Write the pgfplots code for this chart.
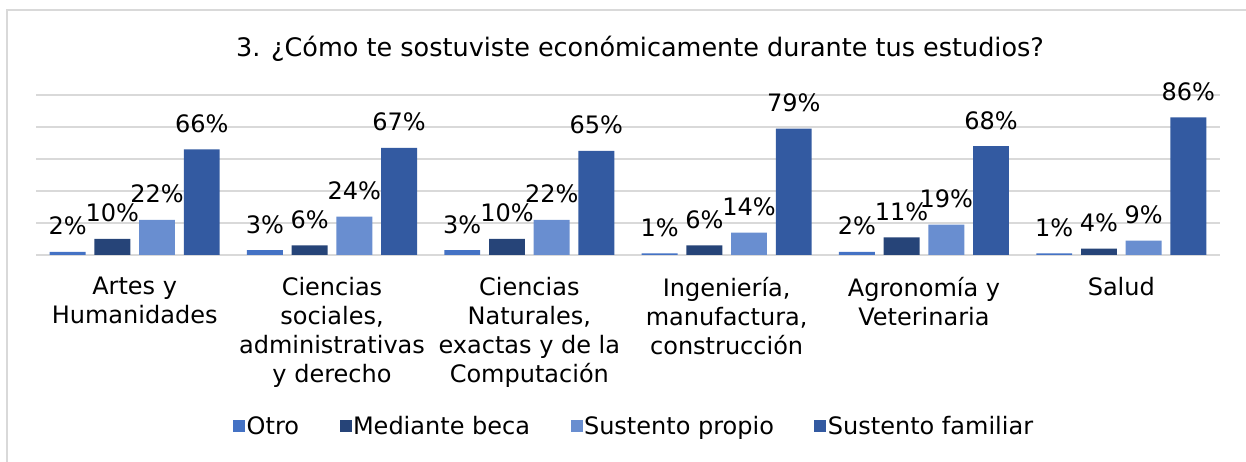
\documentclass[border=0pt]{standalone}
\usepackage{pgfplots}
\pgfplotsset{compat=1.18}
\usepackage{fontspec}
\setmainfont{DejaVu Sans}
\definecolor{cOtro}{HTML}{4472C4}
\definecolor{cBeca}{HTML}{264478}
\definecolor{cPropio}{HTML}{698ED0}
\definecolor{cFamiliar}{HTML}{335AA1}
\definecolor{cGrid}{HTML}{D9D9D9}
\newcommand{\lbl}{\fontsize{24}{29}\selectfont}
\begin{document}
\begin{tikzpicture}
\path[use as bounding box, clip] (0pt,0pt) rectangle (1246pt,462pt);
\draw[cGrid, line width=1.5pt] (7pt,452pt) rectangle (1270pt,-20pt);
\node[anchor=base, font=\fontsize{25.5}{29}\selectfont] at (640pt,405pt)
  {3. ¿Cómo te sostuviste económicamente durante tus estudios?};
\begin{axis}[
  at={(36pt,207pt)}, anchor=south west,
  scale only axis, width=1184pt, height=160pt,
  xmin=-0.5, xmax=5.5, ymin=0, ymax=100,
  axis line style={draw=none},
  ytick={0,20,...,100}, yticklabels={},
  ymajorgrids, grid style={cGrid, line width=1.5pt},
  major tick style={draw=none},
  xtick={0,...,5},
  xticklabels={{Artes y\\Humanidades},
    {Ciencias\\sociales,\\administrativas\\y derecho},
    {Ciencias\\Naturales,\\exactas y de la\\Computación},
    {Ingeniería,\\manufactura,\\construcción},
    {Agronomía y\\Veterinaria},
    {Salud}},
  xticklabel style={align=center, font=\lbl, inner sep=0pt, yshift=-18pt},
  /pgf/number format/assume math mode=true,
  ybar, bar width=0.182,
  every axis plot/.append style={draw=none},
  nodes near coords={\pgfmathprintnumber{\pgfplotspointmeta}\%},
  every node near coord/.append style={font=\lbl, text=black, inner sep=0pt, anchor=base, yshift=17pt},
  legend columns=4,
  legend style={draw=none, fill=none, font=\lbl, at={(0.505,-1.069)}, anchor=center,
    /tikz/every even column/.append style={column sep=39pt},
    nodes={inner sep=1.5pt}},
  legend image code/.code={\fill[#1] (0pt,-6pt) rectangle (12pt,6pt);},
]
\addplot[fill=cOtro, bar shift=-0.3398] coordinates {(0,2) (1,3) (2,3) (3,1) (4,2) (5,1)};
\addlegendentry{Otro}
\addplot[fill=cBeca, bar shift=-0.1133] coordinates {(0,10) (1,6) (2,10) (3,6) (4,11) (5,4)};
\addlegendentry{Mediante beca}
\addplot[fill=cPropio, bar shift=0.1133] coordinates {(0,22) (1,24) (2,22) (3,14) (4,19) (5,9)};
\addlegendentry{Sustento propio}
\addplot[fill=cFamiliar, bar shift=0.3398] coordinates {(0,66) (1,67) (2,65) (3,79) (4,68) (5,86)};
\addlegendentry{Sustento familiar}
\end{axis}
\end{tikzpicture}
\end{document}
